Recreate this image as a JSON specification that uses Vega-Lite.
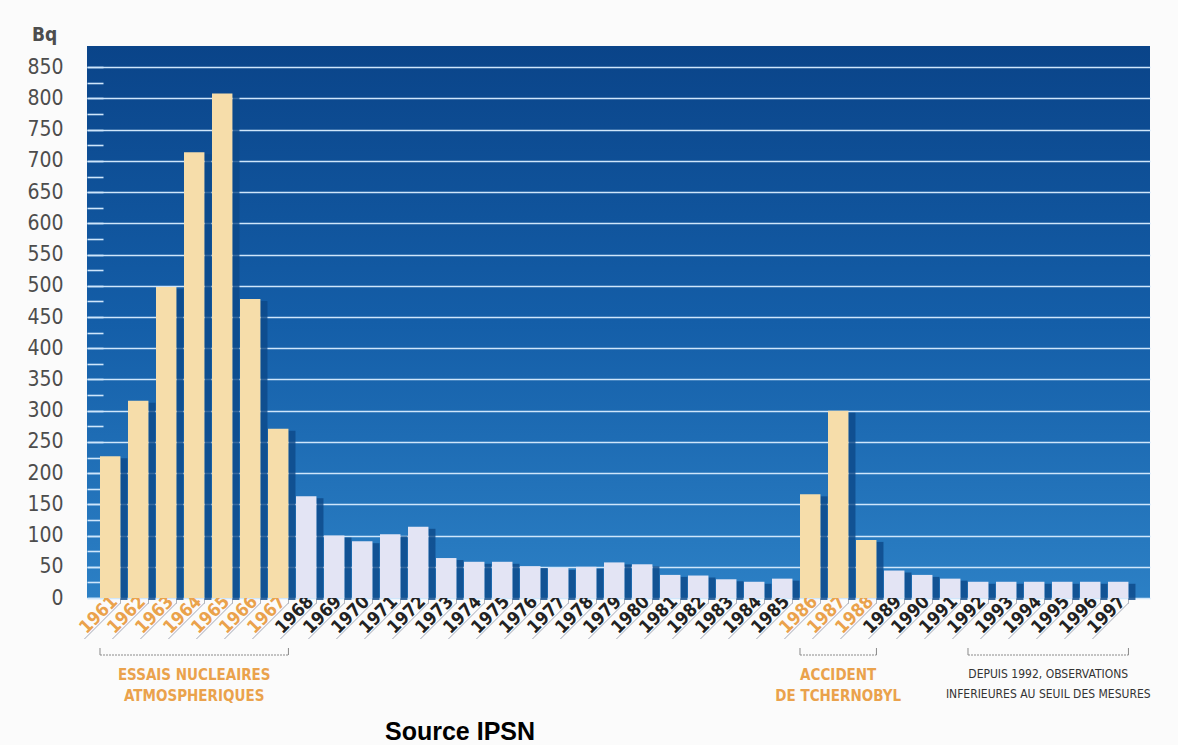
{
  "$schema": "https://vega.github.io/schema/vega-lite/v6.json",
  "autosize": "none",
  "width": 1063,
  "height": 552,
  "padding": {"left": 87, "top": 46, "right": 28, "bottom": 147},
  "background": "#fbfbfb",
  "view": {
    "stroke": null,
    "fill": {"gradient": "linear", "x1": 0, "y1": 0, "x2": 0, "y2": 1, "stops": [{"offset": 0, "color": "#0a4489"}, {"offset": 0.5, "color": "#145ea8"}, {"offset": 1, "color": "#2c80c5"}]}
  },
  "title": {"text": "Source IPSN", "orient": "bottom", "anchor": "start", "frame": "group", "dx": 298, "offset": 16, "font": "Liberation Sans, Arial, sans-serif", "fontSize": 25, "fontWeight": "bold", "color": "#000000"},
  "datasets": {
    "mesures": [
      {"annee": 1961, "bq": 227}, {"annee": 1962, "bq": 316}, {"annee": 1963, "bq": 498},
      {"annee": 1964, "bq": 714}, {"annee": 1965, "bq": 808}, {"annee": 1966, "bq": 479},
      {"annee": 1967, "bq": 271}, {"annee": 1968, "bq": 163}, {"annee": 1969, "bq": 100},
      {"annee": 1970, "bq": 91}, {"annee": 1971, "bq": 102}, {"annee": 1972, "bq": 114},
      {"annee": 1973, "bq": 64}, {"annee": 1974, "bq": 58}, {"annee": 1975, "bq": 58},
      {"annee": 1976, "bq": 51}, {"annee": 1977, "bq": 48}, {"annee": 1978, "bq": 50},
      {"annee": 1979, "bq": 57}, {"annee": 1980, "bq": 54}, {"annee": 1981, "bq": 37},
      {"annee": 1982, "bq": 36}, {"annee": 1983, "bq": 30}, {"annee": 1984, "bq": 26},
      {"annee": 1985, "bq": 31}, {"annee": 1986, "bq": 166}, {"annee": 1987, "bq": 300},
      {"annee": 1988, "bq": 93}, {"annee": 1989, "bq": 44}, {"annee": 1990, "bq": 37},
      {"annee": 1991, "bq": 31}, {"annee": 1992, "bq": 26}, {"annee": 1993, "bq": 26},
      {"annee": 1994, "bq": 26}, {"annee": 1995, "bq": 26}, {"annee": 1996, "bq": 26},
      {"annee": 1997, "bq": 26}
    ],
    "notes": [
      {"debut": 1961, "fin": 1967, "centre": 1964, "groupe": "orange", "texte": ["ESSAIS NUCLEAIRES", "ATMOSPHERIQUES"]},
      {"debut": 1986, "fin": 1988, "centre": 1987, "groupe": "orange", "texte": ["ACCIDENT", "DE TCHERNOBYL"]},
      {"debut": 1992, "fin": 1997, "centre": 1994, "groupe": "gris", "texte": ["DEPUIS 1992, OBSERVATIONS", "INFERIEURES AU SEUIL DES MESURES"]}
    ]
  },
  "layer": [
    {
      "data": {"name": "mesures"},
      "mark": {"type": "bar", "width": 7, "xOffset": 13.75, "yOffset": 2, "color": "#0d4888", "opacity": 0.8},
      "encoding": {
        "x": {
          "field": "annee", "type": "ordinal",
          "scale": {"paddingInner": 0.27, "paddingOuter": 0.617, "align": 0.376},
          "axis": {
            "title": null, "bandPosition": 1, "labelAngle": -45, "labelAlign": "right", "labelBaseline": "bottom",
            "labelOffset": 11, "labelOverlap": false,
            "labelFont": "Liberation Sans Narrow, DejaVu Sans Condensed, sans-serif", "labelFontWeight": "bold", "labelFontSize": 18,
            "labelColor": {"condition": {"test": "(datum.value >= 1961 && datum.value <= 1967) || (datum.value >= 1986 && datum.value <= 1988)", "value": "#eaa24c"}, "value": "#222222"},
            "labelPadding": 2, "tickColor": "#9ea3ad", "tickSize": 5, "tickWidth": 0.8, "domain": false, "grid": false
          }
        },
        "y": {
          "field": "bq", "type": "quantitative",
          "scale": {"domain": [0, 884], "nice": false},
          "axis": {
            "title": "Bq", "titleAngle": 0, "titleAlign": "center", "titleBaseline": "alphabetic", "titleX": -43, "titleY": -6,
            "titleFont": "Liberation Sans Narrow, DejaVu Sans Condensed, sans-serif", "titleFontSize": 19, "titleFontWeight": "bold", "titleColor": "#4d4d4d",
            "values": [0, 25, 50, 75, 100, 125, 150, 175, 200, 225, 250, 275, 300, 325, 350, 375, 400, 425, 450, 475, 500, 525, 550, 575, 600, 625, 650, 675, 700, 725, 750, 775, 800, 825, 850],
            "tickCount": 60,
            "labelExpr": "datum.value % 50 == 0 ? datum.label : ''",
            "labelOverlap": false,
            "labelFont": "Liberation Sans Narrow, DejaVu Sans Condensed, sans-serif", "labelFontSize": 21, "labelColor": "#4d4d4d",
            "labelPadding": 40,
            "grid": true, "gridColor": "#cfe6fb", "gridWidth": 1.6,
            "gridOpacity": {"condition": {"test": "datum.value % 50 == 0", "value": 1}, "value": 0},
            "tickSize": -16, "tickColor": "#cfe6fb", "tickWidth": 1.6, "domain": false
          }
        }
      }
    },
    {
      "data": {"name": "mesures"},
      "mark": {"type": "bar"},
      "encoding": {
        "x": {"field": "annee", "type": "ordinal"},
        "y": {"field": "bq", "type": "quantitative"},
        "color": {"condition": {"test": "(datum.annee >= 1961 && datum.annee <= 1967) || (datum.annee >= 1986 && datum.annee <= 1988)", "value": "#f6ddaa"}, "value": "#e3e4f4"}
      }
    },
    {
      "data": {"name": "mesures"},
      "mark": {"type": "rule", "yOffset": 5, "y2Offset": 41, "x2Offset": -36, "color": "#8d93a3", "strokeWidth": 0.8},
      "encoding": {
        "x": {"field": "annee", "type": "ordinal", "bandPosition": 1},
        "x2": {"field": "annee", "bandPosition": 1},
        "y": {"value": "height"},
        "y2": {"value": "height"}
      }
    },
    {
      "data": {"name": "notes"},
      "mark": {"type": "rule", "yOffset": 57, "color": "#8a8a8a", "strokeWidth": 1, "strokeDash": [2, 1]},
      "encoding": {
        "x": {"field": "debut", "type": "ordinal", "bandPosition": 0},
        "x2": {"field": "fin", "bandPosition": 1},
        "y": {"value": "height"}
      }
    },
    {
      "data": {"name": "notes"},
      "mark": {"type": "rule", "yOffset": 50, "y2Offset": 57, "color": "#8a8a8a", "strokeWidth": 1},
      "encoding": {
        "x": {"field": "debut", "type": "ordinal", "bandPosition": 0},
        "y": {"value": "height"},
        "y2": {"value": "height"}
      }
    },
    {
      "data": {"name": "notes"},
      "mark": {"type": "rule", "yOffset": 50, "y2Offset": 57, "color": "#8a8a8a", "strokeWidth": 1},
      "encoding": {
        "x": {"field": "fin", "type": "ordinal", "bandPosition": 1},
        "y": {"value": "height"},
        "y2": {"value": "height"}
      }
    },
    {
      "data": {"name": "notes"},
      "transform": [{"filter": "datum.groupe == 'orange'"}],
      "mark": {"type": "text", "yOffset": 82, "align": "center", "baseline": "alphabetic", "lineHeight": 21, "font": "Liberation Sans Narrow, DejaVu Sans Condensed, sans-serif", "fontSize": 15, "fontWeight": "bold", "color": "#eaa24c"},
      "encoding": {
        "x": {"field": "centre", "type": "ordinal", "bandPosition": 0.5},
        "y": {"value": "height"},
        "text": {"field": "texte"}
      }
    },
    {
      "data": {"name": "notes"},
      "transform": [{"filter": "datum.groupe == 'gris'"}],
      "mark": {"type": "text", "yOffset": 80, "dx": 14, "align": "center", "baseline": "alphabetic", "lineHeight": 20, "font": "Liberation Sans Narrow, DejaVu Sans Condensed, sans-serif", "fontSize": 12, "color": "#333333"},
      "encoding": {
        "x": {"field": "centre", "type": "ordinal", "bandPosition": 0.5},
        "y": {"value": "height"},
        "text": {"field": "texte"}
      }
    }
  ]
}
